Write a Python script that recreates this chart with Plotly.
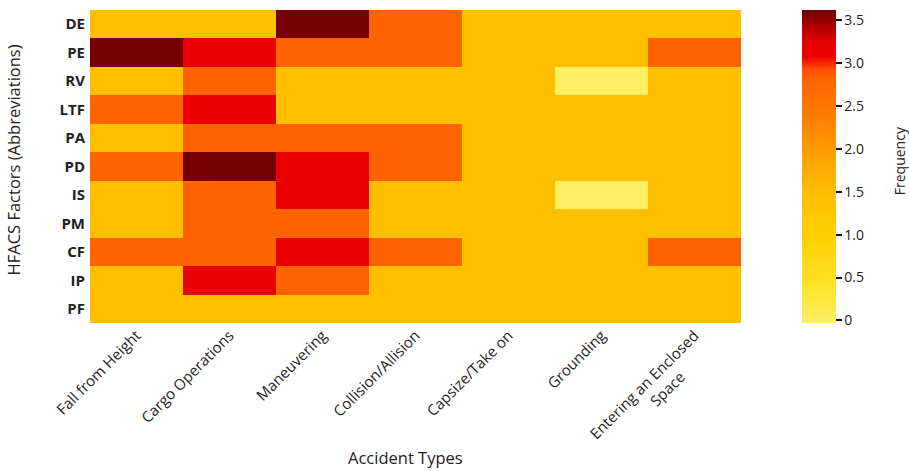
import plotly.graph_objects as go

# Accident types (columns) and HFACS factor abbreviations (rows, top to bottom)
accident_types = [
    "Fall from Height",
    "Cargo Operations",
    "Maneuvering",
    "Collision/Allision",
    "Capsize/Take on",
    "Grounding",
    "Entering an Enclosed<br>Space" + "&nbsp;" * 10,
]
hfacs_factors = ["DE", "PE", "RV", "LTF", "PA", "PD", "IS", "PM", "CF", "IP", "PF"]

# Frequency of each HFACS factor per accident type
freq_DE = [1.5, 1.5, 3.6, 2.8, 1.5, 1.5, 1.5]
freq_PE = [3.6, 3.15, 2.8, 2.8, 1.5, 1.5, 2.8]
freq_RV = [1.5, 2.8, 1.5, 1.5, 1.5, 0.0, 1.5]
freq_LTF = [2.8, 3.15, 1.5, 1.5, 1.5, 1.5, 1.5]
freq_PA = [1.5, 2.8, 2.8, 2.8, 1.5, 1.5, 1.5]
freq_PD = [2.8, 3.6, 3.15, 2.8, 1.5, 1.5, 1.5]
freq_IS = [1.5, 2.8, 3.15, 1.5, 1.5, 0.0, 1.5]
freq_PM = [1.5, 2.8, 2.8, 1.5, 1.5, 1.5, 1.5]
freq_CF = [2.8, 2.8, 3.15, 2.8, 1.5, 1.5, 2.8]
freq_IP = [1.5, 3.15, 2.8, 1.5, 1.5, 1.5, 1.5]
freq_PF = [1.5, 1.5, 1.5, 1.5, 1.5, 1.5, 1.5]

z = [freq_DE, freq_PE, freq_RV, freq_LTF, freq_PA, freq_PD,
     freq_IS, freq_PM, freq_CF, freq_IP, freq_PF]

cbar_ticks = [0, 0.5, 1.0, 1.5, 2.0, 2.5, 3.0, 3.5]
cbar_labels = ["0", "0.5", "1.0", "1.5", "2.0", "2.5", "3.0", "3.5"]

zmin, zmax = -0.03, 3.62

# yellow -> orange -> red -> dark red
colorscale = [
    [0.00, "#FFF064"],
    [0.14, "#FFE021"],
    [0.28, "#FFD000"],
    [0.42, "#FFBE00"],
    [0.56, "#FF9A00"],
    [0.68, "#FF7800"],
    [0.77, "#FF6600"],
    [0.81, "#FF5000"],
    [0.85, "#EE0000"],
    [0.90, "#E40000"],
    [1.00, "#700000"],
]

font_family = "Open Sans, Noto Sans, sans-serif"

fig = go.Figure(
    go.Heatmap(
        z=z,
        x=accident_types,
        y=hfacs_factors,
        zmin=zmin,
        zmax=zmax,
        colorscale=colorscale,
        showscale=True,
        colorbar=dict(
            x=1.094,
            xanchor="left",
            y=0.5,
            yanchor="middle",
            len=1.0,
            lenmode="fraction",
            thickness=34,
            outlinewidth=0,
            ticks="outside",
            ticklen=6,
            tickwidth=2,
            tickcolor="#111",
            tickvals=cbar_ticks,
            ticktext=cbar_labels,
            tickfont=dict(family=font_family, size=14, color="#222"),
            xpad=0,
            ypad=0,
        ),
        hovertemplate="%{y} / %{x}: %{z}<extra></extra>",
    )
)

fig.update_layout(
    width=909,
    height=471,
    margin=dict(l=90, r=168, t=10, b=148),
    paper_bgcolor="white",
    plot_bgcolor="white",
    font=dict(family=font_family, color="#222"),
    xaxis=dict(
        tickangle=-45,
        tickfont=dict(family=font_family, size=15, color="#222"),
        showgrid=False,
        zeroline=False,
        showline=False,
        ticks="",
    ),
    yaxis=dict(
        autorange="reversed",
        tickfont=dict(family=font_family, size=15, color="#222", weight="bold"),
        showgrid=False,
        zeroline=False,
        showline=False,
        ticks="",
        ticklabelstandoff=4,
    ),
    annotations=[
        dict(
            text="Accident Types",
            xref="paper", yref="paper",
            x=0.485, y=-0.43,
            xanchor="center", yanchor="middle",
            showarrow=False,
            font=dict(family=font_family, size=16.5, color="#222"),
        ),
        dict(
            text="HFACS Factors (Abbreviations)",
            xref="paper", yref="paper",
            x=-0.118, y=0.52,
            xanchor="center", yanchor="middle",
            textangle=-90,
            showarrow=False,
            font=dict(family=font_family, size=16.5, color="#222"),
        ),
        dict(
            text="Frequency",
            xref="paper", yref="paper",
            x=1.2427, y=0.52,
            xanchor="center", yanchor="middle",
            textangle=-90,
            showarrow=False,
            font=dict(family=font_family, size=14, color="#222"),
        ),
    ],
)

fig.write_html("out.html")
